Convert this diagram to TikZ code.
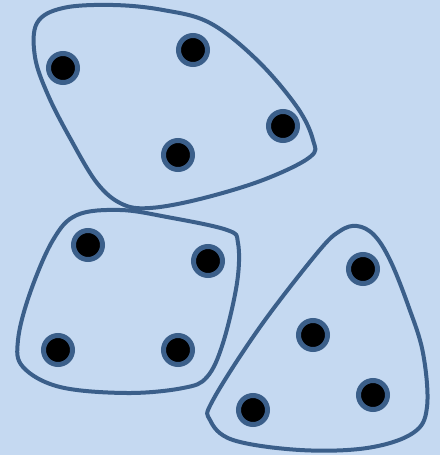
\documentclass[tikz,border=0pt]{standalone}
\usepackage{xcolor}
\definecolor{paleblue}{RGB}{197,217,241}
\definecolor{blobline}{RGB}{59,95,138}

\begin{document}
\begin{tikzpicture}[
  x=1pt, y=-1pt,
  blob/.style={draw=blobline, line width=4pt, line join=round},
  dot/.style={circle, fill=black, draw=blobline, line width=5pt,
              minimum size=29pt, inner sep=0pt},
]
  % background
  \fill[paleblue] (0,0) rectangle (440,455);
  \useasboundingbox (0,0) rectangle (440,455);

  % TOP GROUP
  \draw[blob] plot[smooth cycle, tension=0.6] coordinates {
    (37,23) (63,8) (113,5) (163,10) (210,23) (257,60) (297,107)
    (313,140) (310,157) (263,180) (200,199) (150,208) (122,204)
    (97,183) (70,138) (48,95) (35,57)};
  \node[dot] (a1) at (63,68) {};
  \node[dot] (a2) at (193,50) {};
  \node[dot] (a3) at (283,126) {};
  \node[dot] (a4) at (178,155) {};

  % LEFT GROUP
  \draw[blob] plot[smooth cycle, tension=0.6] coordinates {
    (77,215) (120,210) (167,217) (227,230) (238,243) (237,283)
    (223,343) (207,377) (183,388) (127,393) (60,387) (23,367)
    (18,340) (30,293) (53,240)};
  \node[dot] (b1) at (88,245) {};
  \node[dot] (b2) at (208,261) {};
  \node[dot] (b3) at (58,350) {};
  \node[dot] (b4) at (178,350) {};

  % RIGHT GROUP
  \draw[blob] plot[smooth cycle, tension=0.6] coordinates {
    (357,226) (374,235) (390,260) (408,305) (423,353) (427,407)
    (413,433) (367,448) (300,450) (233,440) (210,420) (213,400)
    (260,327) (318,252) (340,231)};
  \node[dot] (c1) at (363,269) {};
  \node[dot] (c2) at (313,335) {};
  \node[dot] (c3) at (373,395) {};
  \node[dot] (c4) at (253,410) {};

\end{tikzpicture}
\end{document}
